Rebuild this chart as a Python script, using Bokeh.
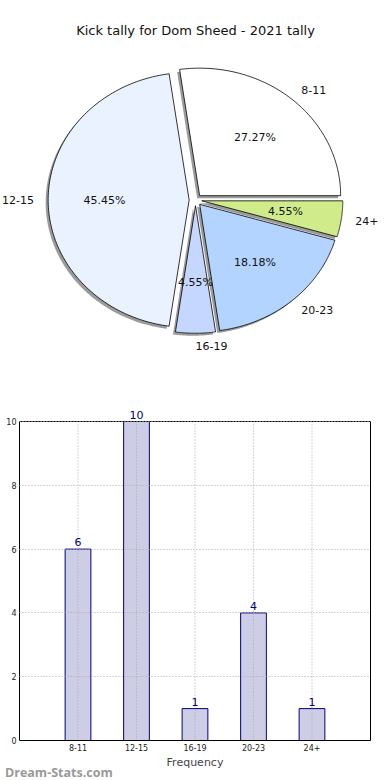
import numpy as np
from bokeh.plotting import figure
from bokeh.models import (Range1d, Label, FixedTicker, ColumnDataSource, LabelSet, Span,
                          LinearAxis, Div)
from bokeh.embed import file_html
from bokeh.resources import INLINE
from bokeh.core.properties import value

# ---------------- data ----------------
chart_title = "Kick tally for Dom Sheed - 2021 tally"
categories = ["8-11", "12-15", "16-19", "20-23", "24+"]
counts = [6, 10, 1, 4, 1]
pie_colors = ["#ffffff", "#ebf2ff", "#c6d7ff", "#b3d4ff", "#cfeb8a"]
y_ticks = [0, 2, 4, 6, 8, 10]
x_axis_label = "Frequency"
watermark = "Dream-Stats.com"

FONT = "DejaVu Sans"
W = 390
PIE_H = 400
BAR_H = 380

# ---------------- pie ----------------
cx, cy, rx, ry = 195, 199.5, 141, 127.5
explode = 0.045
shadow_dx, shadow_dy = -2.5, 2.5

pie = figure(width=W, height=PIE_H, x_range=Range1d(0, W), y_range=Range1d(PIE_H, 0),
             output_backend="svg", toolbar_location=None,
             min_border=0, min_border_left=0, min_border_right=0,
             min_border_top=0, min_border_bottom=0,
             x_axis_location=None, y_axis_location=None,
             styles={"position": "absolute", "left": "0px", "top": "0px"})
pie.grid.visible = False
pie.outline_line_color = None

total = float(sum(counts))
fracs = np.array(counts) / total
ends = np.cumsum(fracs) * 2 * np.pi
starts = ends - fracs * 2 * np.pi
mids = (starts + ends) / 2

px_list, py_list, sx_list, sy_list = [], [], [], []
for a0, a1, m in zip(starts, ends, mids):
    t = np.linspace(a0, a1, 120)
    ox = cx + explode * rx * np.cos(m)
    oy = cy - explode * ry * np.sin(m)
    px = np.concatenate([[ox], ox + rx * np.cos(t)])
    py = np.concatenate([[oy], oy - ry * np.sin(t)])
    px_list.append(px)
    py_list.append(py)
    sx_list.append(px + shadow_dx)
    sy_list.append(py + shadow_dy)

pie.patches(sx_list, sy_list, fill_color="#707070", fill_alpha=0.7, line_color=None)
pie.patches(px_list, py_list, fill_color=pie_colors, line_color="black", line_width=0.8)

lab_x = cx + (1.1 + explode) * rx * np.cos(mids)
lab_y = cy - (1.1 + explode) * ry * np.sin(mids)
lab_align = ["left" if np.cos(m) > -1e-6 else "right" for m in mids]
pie.text(x=lab_x, y=lab_y, text=categories, text_align=lab_align, text_baseline="middle",
         text_font=value(FONT), text_font_size="11px", text_color="#111111")

pct_x = cx + (0.6 + explode) * rx * np.cos(mids)
pct_y = cy - (0.6 + explode) * ry * np.sin(mids)
pct_text = [f"{f * 100:.2f}%" for f in fracs]
pie.text(x=pct_x, y=pct_y, text=pct_text, text_align="center", text_baseline="middle",
         text_font=value(FONT), text_font_size="11px", text_color="#111111")

pie.add_layout(Label(x=W / 2, y=30, text=chart_title, text_align="center", text_baseline="middle",
                     text_font=FONT, text_font_size="13px", text_color="#111111"))

# ---------------- bars ----------------
n = len(categories)
xs = list(range(1, n + 1))
ymax = max(y_ticks)
top_border, frame_px, head_px = 3, 319, 18
pad = ymax * head_px / frame_px  # room above the top spine for the value labels
bar = figure(width=W, height=BAR_H, x_range=Range1d(0, n + 1), y_range=Range1d(0, ymax + pad),
             output_backend="svg", toolbar_location=None,
             min_border_left=19, min_border_right=20, min_border_top=top_border,
             min_border_bottom=BAR_H - top_border - head_px - frame_px,
             styles={"position": "absolute", "left": "0px", "top": f"{PIE_H}px"})
bar.outline_line_color = None
bar.vbar(x=xs, top=counts, width=0.44, fill_color="#cdcde6", line_color="#000080", line_width=1)

# dotted grid (vertical lines limited to the axis box)
bar.xgrid.visible = False
bar.ygrid.ticker = FixedTicker(ticks=y_ticks)
bar.ygrid.grid_line_color = "#aaaaaa"
bar.ygrid.grid_line_dash = "1 2"
bar.ygrid.level = "overlay"
bar.segment(x0=xs, y0=[0] * n, x1=xs, y1=[ymax] * n, line_color="#aaaaaa", line_dash="1 2",
            line_width=1)

src = ColumnDataSource(dict(x=xs, y=counts, t=[str(c) for c in counts]))
bar.add_layout(LabelSet(x="x", y="y", text="t", source=src, text_align="center",
                        text_baseline="bottom", y_offset=3, text_font=value(FONT),
                        text_font_size="11px", text_color="#000080"))

bar.xaxis.ticker = FixedTicker(ticks=xs)
bar.xaxis.major_label_overrides = {x: c for x, c in zip(xs, categories)}
bar.yaxis.ticker = FixedTicker(ticks=y_ticks)
bar.yaxis.bounds = (0, ymax)

right = LinearAxis(ticker=FixedTicker(ticks=[]), bounds=(0, ymax), major_tick_out=0,
                   major_tick_in=0, minor_tick_line_color=None,
                   major_label_text_font_size="0px", axis_line_color="black")
bar.add_layout(right, "right")
bar.add_layout(Span(location=ymax, dimension="width", line_color="black", line_width=1))

bar.axis.major_tick_out = 0
bar.axis.major_tick_in = 0
bar.axis.minor_tick_line_color = None
bar.axis.major_label_text_font = FONT
bar.axis.major_label_text_font_size = "8px"
bar.axis.major_label_text_color = "#222222"
bar.axis.major_label_standoff = 3
bar.axis.axis_line_color = "black"
right.major_label_text_font_size = "0px"
bar.xaxis.axis_label = x_axis_label
bar.xaxis.axis_label_text_font = FONT
bar.xaxis.axis_label_text_font_size = "11px"
bar.xaxis.axis_label_text_font_style = "normal"
bar.xaxis.axis_label_standoff = 2

wm = Div(text=watermark, width=130, height=14,
         styles={"position": "absolute", "left": "0px", "top": "761px",
                 "font-family": "Open Sans", "font-size": "12.5px",
                 "font-weight": "bold", "color": "#999999", "line-height": "14px"})

open("out.html", "w").write(file_html([pie, bar, wm], INLINE))
